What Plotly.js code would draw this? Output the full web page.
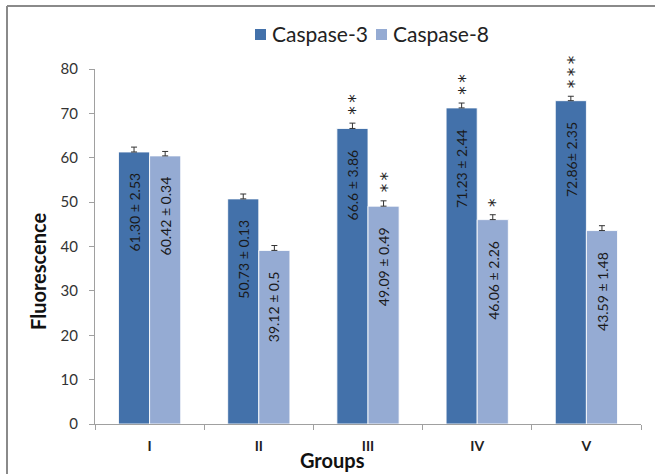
<!DOCTYPE html>
<html><head><meta charset="utf-8">
<script src="https://cdn.plot.ly/plotly-3.0.1.min.js"></script>
<style>html,body{margin:0;padding:0;background:#fff}</style>
</head><body>
<div id="chart" style="width:655px;height:474px"></div>
<script>
const groups = ['I', 'II', 'III', 'IV', 'V'];
const caspase3 = [61.30, 50.73, 66.6, 71.23, 72.86];
const caspase8 = [60.42, 39.12, 49.09, 46.06, 43.59];
const caspase3Err = [1.1, 1.1, 1.2, 1.1, 1.0];
const caspase8Err = [1.0, 1.1, 1.2, 1.1, 1.1];
const caspase3Labels = ['61.30 ± 2.53', '50.73 ± 0.13', '66.6 ± 3.86', '71.23 ± 2.44', '72.86± 2.35'];
const caspase8Labels = ['60.42 ± 0.34', '39.12 ± 0.5', '49.09 ± 0.49', '46.06 ± 2.26', '43.59 ± 1.48'];
const caspase3Sig = ['', '', '**', '**', '***'];
const caspase8Sig = ['', '', '**', '*', ''];
const seriesNames = ['Caspase-3', 'Caspase-8'];

const C3 = '#4371AA', C8 = '#95ABD3';
const W = 655, H = 474, ML = 95, MR = 14, MT = 69, MB = 50;
const PW = W - ML - MR, PH = H - MT - MB;
const px = x => (x - ML) / PW;
const py = y => (H - MB - y) / PH;
const FONT = 'Lato, "Liberation Sans", sans-serif';

const traces = [
  {type: 'bar', name: seriesNames[0], x: groups, y: caspase3,
   marker: {color: C3, line: {color: 'rgba(255,255,255,0.85)', width: 1}},
   error_y: {type: 'data', array: caspase3Err, symmetric: false, arrayminus: caspase3Err.map(() => 0),
             color: '#333', thickness: 1, width: 3},
   hoverinfo: 'y'},
  {type: 'bar', name: seriesNames[1], x: groups, y: caspase8,
   marker: {color: C8, line: {color: 'rgba(255,255,255,0.85)', width: 1}},
   error_y: {type: 'data', array: caspase8Err, symmetric: false, arrayminus: caspase8Err.map(() => 0),
             color: '#333', thickness: 1, width: 3},
   hoverinfo: 'y'}
];

const annotations = [];
const shapes = [];
const barOff = 15.5;
const addSeries = (vals, errs, labels, sig, dx) => {
  groups.forEach((g, i) => {
    annotations.push({x: g, y: vals[i], xref: 'x', yref: 'y', xshift: dx, yshift: -19,
      text: labels[i], textangle: -90, showarrow: false, xanchor: 'center', yanchor: 'top',
      font: {family: FONT, size: 14, color: '#1a1a1a'}});
    if (sig[i]) {
      annotations.push({x: g, y: vals[i] + errs[i], xref: 'x', yref: 'y', xshift: dx + 3, yshift: 6,
        text: sig[i].split('').join('\u2009'), textangle: -90, showarrow: false,
        xanchor: 'center', yanchor: 'bottom',
        font: {family: '"DejaVu Sans", sans-serif', size: 17, color: '#222'}});
    }
  });
};
addSeries(caspase3, caspase3Err, caspase3Labels, caspase3Sig, -barOff);
addSeries(caspase8, caspase8Err, caspase8Labels, caspase8Sig, barOff);

// axis titles
annotations.push({xref: 'paper', yref: 'paper', x: px(38), y: py(272), text: '<b>Fluorescence</b>',
  textangle: -90, showarrow: false, xanchor: 'center', yanchor: 'middle',
  font: {family: FONT, size: 20, color: '#111'}});
annotations.push({xref: 'paper', yref: 'paper', x: px(332), y: py(460), text: '<b>Groups</b>',
  showarrow: false, xanchor: 'center', yanchor: 'middle',
  font: {family: FONT, size: 20, color: '#111'}});

// legend
const legendItems = [{name: seriesNames[0], color: C3, sx: 255, tx: 270},
                     {name: seriesNames[1], color: C8, sx: 376, tx: 391}];
legendItems.forEach(it => {
  shapes.push({type: 'rect', xref: 'paper', yref: 'paper', x0: px(it.sx), x1: px(it.sx + 11),
    y0: py(40), y1: py(29), fillcolor: it.color, line: {width: 0}});
  annotations.push({xref: 'paper', yref: 'paper', x: px(it.tx), y: py(34), text: it.name,
    showarrow: false, xanchor: 'left', yanchor: 'middle',
    font: {family: FONT, size: 21, color: '#222'}});
});

// outer frame
shapes.push({type: 'line', xref: 'paper', yref: 'paper', x0: px(7), x1: px(7), y0: py(480), y1: py(6),
  line: {color: '#8a8a8a', width: 2}});
shapes.push({type: 'line', xref: 'paper', yref: 'paper', x0: px(7), x1: px(700), y0: py(6), y1: py(6),
  line: {color: '#8a8a8a', width: 2}});

const layout = {
  width: W, height: H,
  margin: {l: ML, r: MR, t: MT, b: MB},
  paper_bgcolor: '#fff', plot_bgcolor: '#fff',
  showlegend: false,
  barmode: 'group', bargap: 0.43, bargroupgap: 0,
  xaxis: {type: 'category', showline: true, linecolor: '#a0a0a0', linewidth: 1,
    ticks: 'outside', tickson: 'boundaries', ticklen: 5, tickcolor: '#a0a0a0',
    showgrid: false, zeroline: false, ticklabelstandoff: 9,
    tickfont: {family: FONT, size: 14, color: '#222', weight: 'bold'}},
  yaxis: {range: [0, 80], dtick: 10, showline: true, linecolor: '#a0a0a0', linewidth: 1,
    ticks: 'outside', ticklen: 5, tickcolor: '#a0a0a0', showgrid: false, zeroline: false,
    ticklabelstandoff: 8,
    tickfont: {family: FONT, size: 15, color: '#333'}},
  annotations: annotations,
  shapes: shapes
};

Plotly.newPlot('chart', traces, layout, {displayModeBar: false, staticPlot: true});
</script>
</body></html>
